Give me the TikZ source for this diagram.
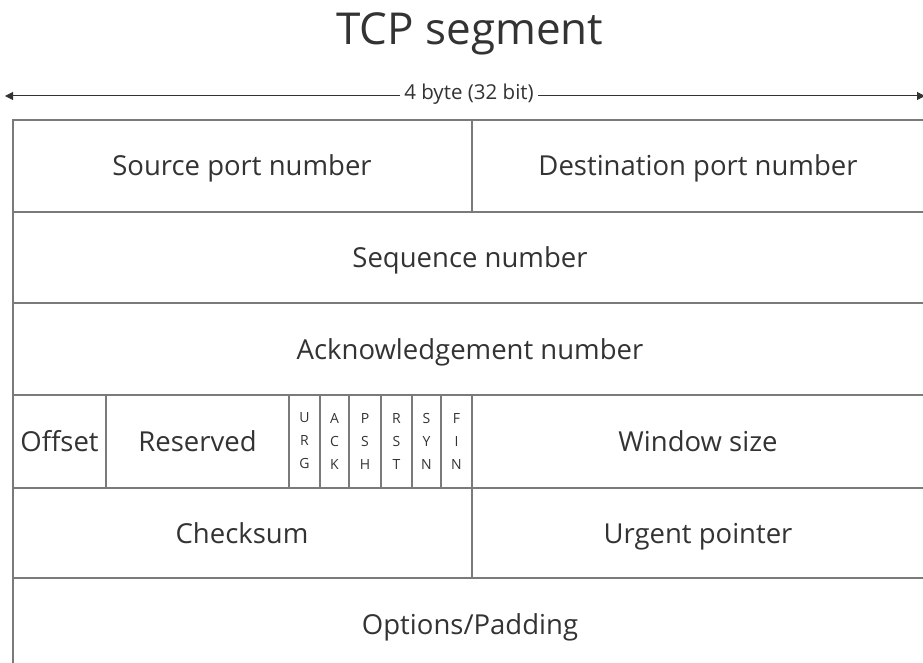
\documentclass[tikz,border=0pt]{standalone}
\usepackage{fontspec}
\setmainfont{Open Sans}
\usetikzlibrary{arrows.meta}
\definecolor{linegray}{HTML}{7A7A7A}
\definecolor{textgray}{HTML}{333333}
\begin{document}
\begin{tikzpicture}[x=1pt,y=-1pt,
  grid/.style={draw=linegray,line width=1.6pt},
  cell/.style={text=textgray,font=\fontsize{27.5}{32}\selectfont,inner sep=0pt,anchor=base},
  flag/.style={text=textgray,font=\fontsize{14}{23}\selectfont,align=center,inner sep=0pt,anchor=center},
  dim/.style={draw=black!80,line width=1pt,{Triangle[length=8pt,width=8pt]}-{Triangle[length=8pt,width=8pt]}}]
\useasboundingbox (0,0) rectangle (923,663);
\clip (0,0) rectangle (923,663);
% title
\node[text=textgray,font=\fontsize{44}{50}\selectfont,inner sep=0pt,anchor=base] (title) at (470,45) {TCP segment};
% width dimension
\coordinate (dl) at (5,96);
\coordinate (dr) at (925,96);
\draw[dim] (dl) -- (dr);
\node[fill=white,text=textgray,font=\fontsize{20.5}{22}\selectfont,inner xsep=4pt,inner ysep=3pt,anchor=base] (width) at (469,99.5) {4 byte (32 bit)};
% table grid
\draw[grid] (13,670) -- (13,120) -- (930,120);
\foreach \y in {212,303,395,488,578} \draw[grid] (13,\y) -- (930,\y);
\draw[grid] (472,120) -- (472,212);
\draw[grid] (472,488) -- (472,578);
\foreach \x in {106,289,320,349,381,412,441,472} \draw[grid] (\x,395) -- (\x,488);
% cells
\node[cell] (src) at (242,176) {Source port number};
\node[cell] (dst) at (698,176) {Destination port number};
\node[cell] (seq) at (470,267.5) {Sequence number};
\node[cell] (ack) at (470,359) {Acknowledgement number};
\node[cell] (off) at (59.5,451) {Offset};
\node[cell] (res) at (197.5,451) {Reserved};
\node[flag] (urg) at (304.5,441) {U\\R\\G};
\node[flag] (ackf) at (334.5,441) {A\\C\\K};
\node[flag] (psh) at (365,441) {P\\S\\H};
\node[flag] (rst) at (396.5,441) {R\\S\\T};
\node[flag] (syn) at (426.5,441) {S\\Y\\N};
\node[flag] (fin) at (456.5,441) {F\\I\\N};
\node[cell] (win) at (698,451) {Window size};
\node[cell] (chk) at (242,543) {Checksum};
\node[cell] (urp) at (698,543) {Urgent pointer};
\node[cell] (opt) at (470,634) {Options/Padding};
\end{tikzpicture}
\end{document}
